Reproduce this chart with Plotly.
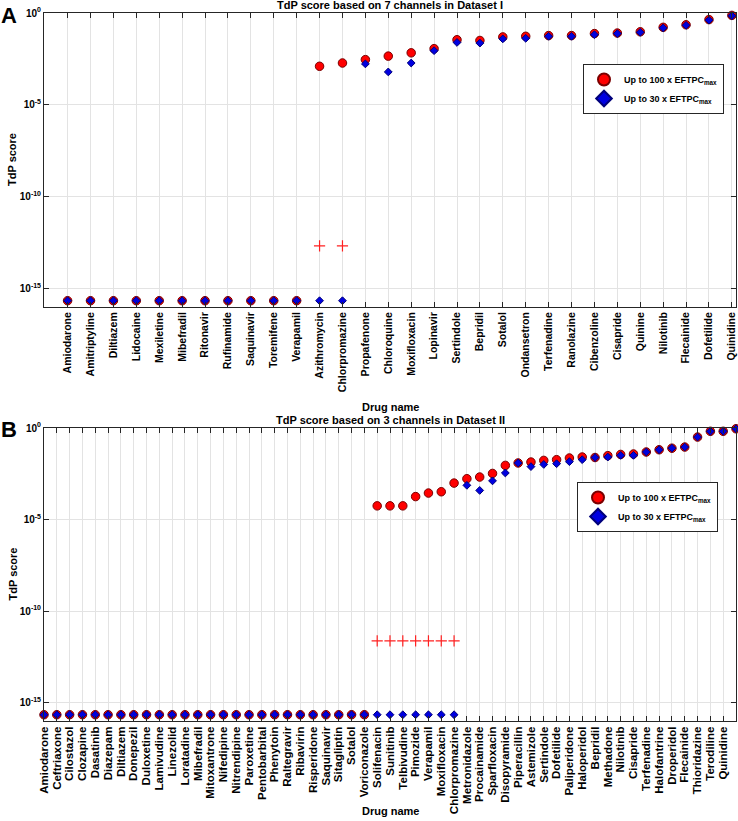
import plotly.graph_objects as go

# ---------------- data ----------------
FLOOR = 2.2e-16  # value used to show zero scores on the log axis

drugs_A = ["Amiodarone", "Amitriptyline", "Diltiazem", "Lidocaine", "Mexiletine",
           "Mibefradil", "Ritonavir", "Rufinamide", "Saquinavir", "Toremifene",
           "Verapamil", "Azithromycin", "Chlorpromazine", "Propafenone", "Chloroquine",
           "Moxifloxacin", "Lopinavir", "Sertindole", "Bepridil", "Sotalol",
           "Ondansetron", "Terfenadine", "Ranolazine", "Cibenzoline", "Cisapride",
           "Quinine", "Nilotinib", "Flecainide", "Dofetilide", "Quinidine"]
red_A = [0, 0, 0, 0, 0, 0, 0, 0, 0, 0, 0,
         1.26e-3, 1.9e-3, 2.9e-3, 4.5e-3, 6.8e-3, 1.15e-2, 3.5e-2, 3.2e-2, 5.0e-2,
         5.4e-2, 5.9e-2, 5.9e-2, 7.6e-2, 8.1e-2, 9.5e-2, 0.166, 0.229, 0.437, 0.74]
blue_A = [0, 0, 0, 0, 0, 0, 0, 0, 0, 0, 0,
          0, 0, 1.7e-3, 6.2e-4, 1.9e-3, 8.9e-3, 2.5e-2, 2.3e-2, 3.9e-2,
          4.2e-2, 5.4e-2, 5.4e-2, 6.6e-2, 7.6e-2, 8.9e-2, 0.155, 0.214, 0.41, 0.71]
plus_A = [None] * 11 + [2.1e-13, 2.1e-13] + [None] * 17

drugs_B = ["Amiodarone", "Ceftriaxone", "Cilostazol", "Clozapine", "Dasatinib",
           "Diazepam", "Diltiazem", "Donepezil", "Duloxetine", "Lamivudine",
           "Linezolid", "Loratadine", "Mibefradil", "Mitoxantrone", "Nifedipine",
           "Nitrendipine", "Paroxetine", "Pentobarbital", "Phenytoin", "Raltegravir",
           "Ribavirin", "Risperidone", "Saquinavir", "Sitagliptin", "Sotalol",
           "Voriconazole", "Solifenacin", "Sunitinib", "Telbivudine", "Pimozide",
           "Verapamil", "Moxifloxacin", "Chlorpromazine", "Metronidazole", "Procainamide",
           "Sparfloxacin", "Disopyramide", "Piperacillin", "Astemizole", "Sertindole",
           "Dofetilide", "Paliperidone", "Haloperidol", "Bepridil", "Methadone",
           "Nilotinib", "Cisapride", "Terfenadine", "Halofantrine", "Droperidol",
           "Flecainide", "Thioridazine", "Terodiline", "Quinidine", "Ibutilide"]
red_B = [0] * 26 + [5.6e-5, 5.6e-5, 5.6e-5, 1.8e-4, 2.8e-4, 3.3e-4, 9.8e-4,
                    1.7e-3, 2.1e-3, 3.3e-3, 9.1e-3, 1.23e-2, 1.38e-2, 1.7e-2,
                    1.86e-2, 2.3e-2, 2.6e-2, 2.45e-2, 3.1e-2, 3.6e-2, 3.8e-2,
                    4.9e-2, 6.5e-2, 7.9e-2, 9.1e-2, 0.32, 0.66, 0.66, 0.91]
blue_B = [0] * 33 + [7.4e-4, 3.9e-4, 1.3e-3, 3.5e-3, 1.23e-2, 7.8e-3, 1.02e-2,
                     1.12e-2, 1.45e-2, 1.86e-2, 2.45e-2, 2.6e-2, 3.2e-2, 3.2e-2,
                     4.9e-2, 6.5e-2, 7.9e-2, 9.1e-2, 0.32, 0.66, 0.66, 0.91]
plus_B = [None] * 26 + [2.4e-12] * 7 + [None] * 22

legend_red = "<b>Up to 100 x EFTPC<sub>max</sub></b>"
legend_blue = "<b>Up to 30 x EFTPC<sub>max</sub></b>"
ytick_vals = [1, 1e-5, 1e-10, 1e-15]
ytick_text = ["<b>10<sup>0</sup></b>", "<b>10<sup>-5</sup></b>",
              "<b>10<sup>-10</sup></b>", "<b>10<sup>-15</sup></b>"]
titles = ["TdP score based on 7 channels in Dataset I",
          "TdP score based on 3 channels in Dataset II"]

# ---------------- layout geometry ----------------
W, H = 738, 821
ML, MR, MT, MB = 44, 2, 13, 100
PW, PH = W - ML - MR, H - MT - MB


def px(x):
    return (x - ML) / PW


def py(y):
    return (H - MB - y) / PH


FONT = "Liberation Sans, Arial, Helvetica, sans-serif"
AX = "#262626"
GRID = "#e3e3e3"

fig = go.Figure()


def floor(v):
    return [FLOOR if (a is not None and a == 0) else a for a in v]


panels = [
    (drugs_A, red_A, blue_A, plus_A, "x", "y", "legend"),
    (drugs_B, red_B, blue_B, plus_B, "x2", "y2", "legend2"),
]
for drugs, red, blue, plus, xa, ya, lg in panels:
    xs = list(range(1, len(drugs) + 1))
    fig.add_trace(go.Scatter(
        x=xs, y=floor(red), mode="markers", name=legend_red, xaxis=xa, yaxis=ya,
        legend=lg, cliponaxis=False,
        marker=dict(symbol="circle", size=8.5, color="#ff0000",
                    line=dict(color="#7a0000", width=1))))
    fig.add_trace(go.Scatter(
        x=xs, y=floor(blue), mode="markers", name=legend_blue, xaxis=xa, yaxis=ya,
        legend=lg, cliponaxis=False,
        marker=dict(symbol="diamond", size=6, color="#0000e0",
                    line=dict(color="#00007a", width=1))))
    fig.add_trace(go.Scatter(
        x=xs, y=plus, mode="markers", showlegend=False, xaxis=xa, yaxis=ya,
        cliponaxis=False,
        marker=dict(symbol="cross-thin", size=8, color="#ff0000",
                    line=dict(color="#ff2020", width=1.2))))

# axes domains (pixel positions of the plot boxes)
A_top, A_bot = 13, 307
B_top, B_bot = 428, 721

common_x = dict(showline=True, linecolor=AX, linewidth=1, mirror="ticks",
                ticks="inside", ticklen=5, tickcolor=AX, showgrid=True,
                gridcolor=GRID, gridwidth=1, zeroline=False, tickangle=-90,
                tickmode="array")
common_y = dict(type="log", range=[-16, 0], showline=True, linecolor=AX,
                linewidth=1, mirror="ticks", ticks="inside", ticklen=5,
                tickcolor=AX, showgrid=True, gridcolor=GRID, gridwidth=1,
                tickmode="array", tickvals=ytick_vals, ticktext=ytick_text,
                tickfont=dict(family=FONT, size=10, color="#000000"),
                zeroline=False)

legend_common = dict(xanchor="right", yanchor="top", bgcolor="white",
                     bordercolor=AX, borderwidth=1,
                     font=dict(family=FONT, size=9, color="#000000"),
                     tracegroupgap=0, itemsizing="constant", itemwidth=30)

fig.update_layout(
    xaxis=dict(common_x, domain=[0, 1], anchor="y", range=[-0.03, 30.18],
               tickvals=list(range(1, len(drugs_A) + 1)),
               ticktext=["<b>%s</b>" % d for d in drugs_A],
               tickfont=dict(family=FONT, size=10.5, color="#000000")),
    yaxis=dict(common_y, domain=[py(A_bot), py(A_top)], anchor="x"),
    xaxis2=dict(common_x, domain=[0, 1], anchor="y2", range=[1, 55],
                tickvals=list(range(1, len(drugs_B) + 1)),
                ticktext=["<b>%s</b>" % d for d in drugs_B],
                tickfont=dict(family=FONT, size=11.5, color="#000000")),
    yaxis2=dict(common_y, domain=[py(B_bot), py(B_top)], anchor="x2"),
    width=W, height=H,
    margin=dict(l=ML, r=MR, t=MT, b=MB, autoexpand=False),
    paper_bgcolor="white", plot_bgcolor="white",
    font=dict(family=FONT, color="#000000"),
    legend=dict(legend_common, x=px(724), y=py(64)),
    legend2=dict(legend_common, x=px(718), y=py(482)),
)

ann = []
# titles
ann.append(dict(x=px(390), y=py(5), text="<b>%s</b>" % titles[0], showarrow=False,
                xanchor="center", yanchor="middle",
                font=dict(family=FONT, size=11, color="#000000")))
ann.append(dict(x=px(390), y=py(420), text="<b>%s</b>" % titles[1], showarrow=False,
                xanchor="center", yanchor="middle",
                font=dict(family=FONT, size=11, color="#000000")))
# panel letters
ann.append(dict(x=px(9), y=py(16), text="<b>A</b>", showarrow=False,
                xanchor="center", yanchor="middle",
                font=dict(family=FONT, size=22, color="#000000")))
ann.append(dict(x=px(9), y=py(429), text="<b>B</b>", showarrow=False,
                xanchor="center", yanchor="middle",
                font=dict(family=FONT, size=22, color="#000000")))
# y axis titles
for yc in [(A_top + A_bot) / 2, (B_top + B_bot) / 2]:
    ann.append(dict(x=px(12), y=py(yc), text="<b>TdP score</b>", showarrow=False,
                    textangle=-90, xanchor="center", yanchor="middle",
                    font=dict(family=FONT, size=11, color="#000000")))
# x axis titles
ann.append(dict(x=px(390), y=py(407), text="<b>Drug name</b>", showarrow=False,
                xanchor="center", yanchor="middle",
                font=dict(family=FONT, size=11, color="#000000")))
ann.append(dict(x=px(390), y=py(811), text="<b>Drug name</b>", showarrow=False,
                xanchor="center", yanchor="middle",
                font=dict(family=FONT, size=11, color="#000000")))
for a in ann:
    a.update(xref="paper", yref="paper")
fig.update_layout(annotations=ann)

fig.write_html("out.html",
               config={"displayModeBar": False},
               post_script="document.body.style.margin='0';"
                           "document.body.style.padding='0';")
